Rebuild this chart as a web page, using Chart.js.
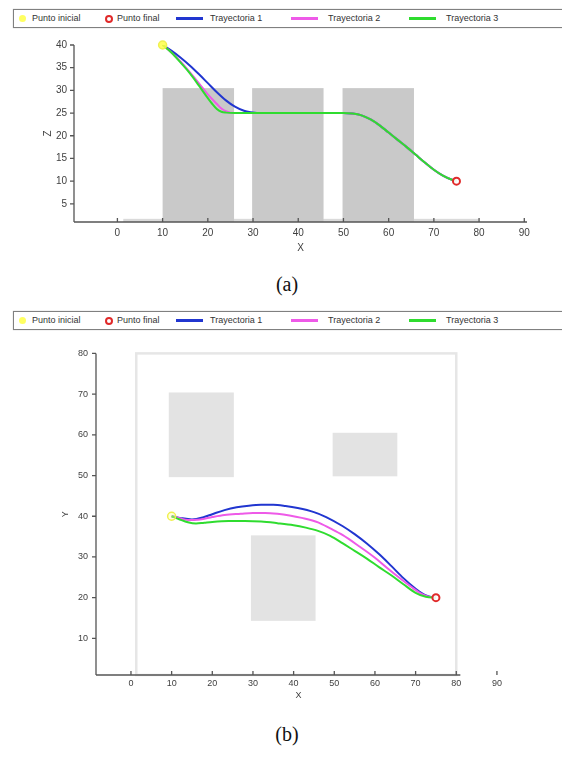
<!DOCTYPE html>
<html>
<head>
<meta charset="utf-8">
<script src="https://cdn.jsdelivr.net/npm/chart.js@4.4.1/dist/chart.umd.min.js"></script>
<style>
  body { margin: 0; width: 562px; height: 760px; background: #fff; overflow: hidden; position: relative; font-family: "Liberation Sans", Arial, sans-serif; }
  .legend { position: absolute; left: 13px; width: 560px; height: 19px; box-sizing: border-box; border: 1px solid #808080; box-shadow: 0 0 1px #b0b0b0; }
  .legend span { position: absolute; }
  .legend .txt { font-size: 9px; color: #333; top: 3px; white-space: nowrap; }
  .plot { position: absolute; left: 0; width: 562px; }
  .caption { position: absolute; width: 562px; text-align: center; font-family: "Liberation Serif", "DejaVu Serif", serif; font-size: 20px; color: #111; }
</style>
</head>
<body>
<div class="legend" id="legA" style="top:9px"></div>
<div class="plot" style="top:30px;height:230px"><canvas id="chartA"></canvas></div>
<div class="caption" style="top:273px;left:6px">(a)</div>

<div class="legend" id="legB" style="top:311px"></div>
<div class="plot" style="top:340px;height:370px"><canvas id="chartB"></canvas></div>
<div class="caption" style="top:723px;left:6px">(b)</div>

<script>
// labels
const seriesLabels = ['Punto inicial', 'Punto final', 'Trayectoria 1', 'Trayectoria 2', 'Trayectoria 3'];
const lineColors = ['#2136d0', '#ee5ae8', '#2fdc2f'];

// tick labels
const xTicksA = [0, 10, 20, 30, 40, 50, 60, 70, 80, 90];
const zTicksA = [5, 10, 15, 20, 25, 30, 35, 40];
const xTicksB = [0, 10, 20, 30, 40, 50, 60, 70, 80, 90];
const yTicksB = [10, 20, 30, 40, 50, 60, 70, 80];

// (a) X-Z view
const startA = { x: 10, y: 40 };
const endA = { x: 75, y: 10 };
const t1Xa = [10, 12, 14, 16, 18, 20, 22, 24, 26, 28, 29.5, 32, 40, 50, 52, 54, 56, 58, 60, 62, 64, 66, 68, 70, 72, 74, 75];
const t1Za = [40, 38.7, 37.2, 35.5, 33.6, 31.6, 29.6, 27.8, 26.4, 25.5, 25.2, 25, 25, 25, 24.9, 24.5, 23.6, 22.3, 20.7, 19.1, 17.5, 15.8, 14.1, 12.5, 11.2, 10.3, 10.1];
const t2Xa = [10, 12, 14, 16, 18, 20, 22, 23, 24, 25, 27, 30, 40, 50, 52, 54, 56, 58, 60, 62, 64, 66, 68, 70, 72, 74, 75];
const t2Za = [40, 38.3, 36.3, 34.0, 31.6, 29.1, 27.0, 26.0, 25.4, 25.1, 25, 25, 25, 25, 24.9, 24.5, 23.6, 22.3, 20.7, 19.1, 17.5, 15.8, 14.1, 12.5, 11.2, 10.3, 10.1];
const t3Xa = [10, 12, 14, 16, 18, 20, 21, 22, 23, 24, 26, 30, 40, 50, 52, 54, 56, 58, 60, 62, 64, 66, 68, 70, 72, 74, 75];
const t3Za = [40, 38.3, 36.1, 33.8, 31.1, 28.3, 27.0, 25.9, 25.3, 25.1, 25, 25, 25, 25, 24.9, 24.5, 23.6, 22.3, 20.7, 19.1, 17.5, 15.8, 14.1, 12.5, 11.2, 10.3, 10.1];
// obstacles [x0, x1, z0, z1]
const obstaclesA = [[10, 25.8, 1, 30.5], [29.8, 45.6, 1, 30.5], [49.8, 65.6, 1, 30.5]];
const groundA = [[1.3, 80, 1, 1.7]];

// (b) X-Y view
const startB = { x: 10, y: 40 };
const endB = { x: 75, y: 20 };
const t1Xb = [10, 12, 15, 18, 20, 23, 26, 29, 32, 35, 38, 41, 45, 48, 52, 55, 58, 61, 64, 67, 70, 72, 73.5, 75];
const t1Yb = [40, 39.6, 39.2, 39.8, 40.5, 41.5, 42.2, 42.6, 42.8, 42.8, 42.5, 42.0, 41.0, 39.8, 37.6, 35.6, 33.3, 30.7, 27.8, 24.8, 22.2, 20.8, 20.2, 20];
const t2Xb = [10, 12, 14, 17, 20, 23, 27, 30, 33, 36, 39, 42, 46, 49, 52, 56, 60, 63, 66, 69, 71, 73, 75];
const t2Yb = [40, 39.5, 39.1, 39.2, 39.8, 40.3, 40.6, 40.8, 40.8, 40.6, 40.2, 39.6, 38.5, 37.0, 35.4, 32.7, 29.8, 27.3, 24.9, 22.6, 21.2, 20.3, 20];
const t3Xb = [10, 12, 14, 16, 18, 20, 24, 28, 32, 36, 40, 43, 46, 49, 52, 55, 58, 61, 64, 67, 70, 72.5, 75];
const t3Yb = [40, 39.2, 38.5, 38.2, 38.4, 38.6, 38.8, 38.8, 38.7, 38.3, 37.8, 37.2, 36.4, 35.2, 33.4, 31.5, 29.6, 27.5, 25.5, 23.3, 21.2, 20.2, 20];
const obstaclesB = [[9.3, 25.3, 49.6, 70.4], [29.5, 45.4, 14.3, 35.3], [49.6, 65.5, 49.8, 60.5]];
const frameB = [1.3, 80, 1, 80];

Chart.defaults.font.family = '"Liberation Sans", Arial, sans-serif';
Chart.defaults.color = '#404040';

function zip(xs, ys) {
    return xs.map((x, i) => ({ x: x, y: ys[i] }));
}

// gray blocks, drawn under the paths
const shapesPlugin = {
    id: 'shapes',
    beforeDatasetsDraw(chart, args, opts) {
        const { ctx, scales: { x, y } } = chart;
        ctx.save();
        (opts.blocks || []).forEach(group => {
            ctx.fillStyle = group.color;
            group.rects.forEach(r => {
                const x0 = x.getPixelForValue(r[0]), x1 = x.getPixelForValue(r[1]);
                const y0 = y.getPixelForValue(r[2]), y1 = y.getPixelForValue(r[3]);
                ctx.fillRect(x0, y1, x1 - x0, y0 - y1);
            });
        });
        if (opts.frame) {
            const f = opts.frame;
            ctx.strokeStyle = '#e6e6e6';
            ctx.lineWidth = 2.5;
            const x0 = x.getPixelForValue(f[0]), x1 = x.getPixelForValue(f[1]);
            const y0 = y.getPixelForValue(f[2]), y1 = y.getPixelForValue(f[3]);
            ctx.strokeRect(x0, y1, x1 - x0, y0 - y1);
        }
        ctx.restore();
    }
};

// axis lines with short tick marks
const axesPlugin = {
    id: 'axesLines',
    afterDraw(chart, args, opts) {
        const { ctx, chartArea: a, scales: { x, y } } = chart;
        ctx.save();
        ctx.strokeStyle = '#555';
        ctx.lineWidth = 1.3;
        ctx.beginPath();
        ctx.moveTo(a.left, a.bottom);
        ctx.lineTo(x.getPixelForValue(opts.xEnd), a.bottom);
        ctx.moveTo(a.left, a.bottom);
        ctx.lineTo(a.left, a.top);
        x.ticks.forEach(t => {
            const px = x.getPixelForValue(t.value);
            ctx.moveTo(px, a.bottom);
            ctx.lineTo(px, a.bottom - 4);
        });
        y.ticks.forEach(t => {
            const py = y.getPixelForValue(t.value);
            ctx.moveTo(a.left, py);
            ctx.lineTo(a.left - 4, py);
        });
        ctx.stroke();
        ctx.restore();
    }
};

function makeDatasets(start, end, paths, startFill) {
    const ds = [
        { label: seriesLabels[0], data: [start], pointRadius: 4, pointBackgroundColor: startFill, pointBorderColor: '#f0f050', pointBorderWidth: 1.5, showLine: false, order: 0, clip: false },
        { label: seriesLabels[1], data: [end], pointRadius: 3.5, pointBackgroundColor: 'rgba(255,255,255,0.9)', pointBorderColor: '#e02a2a', pointBorderWidth: 2, showLine: false, order: 0, clip: false }
    ];
    paths.forEach((p, i) => {
        ds.push({
            label: seriesLabels[i + 2],
            data: p,
            showLine: true,
            borderColor: lineColors[i],
            borderWidth: 2,
            pointRadius: 0,
            cubicInterpolationMode: 'monotone',
            order: 3 - i
        });
    });
    return ds;
}

function makeChart(id, cfg) {
    return new Chart(document.getElementById(id), {
        type: 'scatter',
        data: { datasets: cfg.datasets },
        options: {
            responsive: true,
            maintainAspectRatio: false,
            animation: false,
            layout: { padding: cfg.padding },
            plugins: {
                legend: { display: false },
                tooltip: { enabled: false },
                shapes: cfg.shapes,
                axesLines: { xEnd: cfg.xEnd }
            },
            scales: {
                x: {
                    min: cfg.xMin, max: cfg.xMax,
                    grid: { display: false, drawTicks: false },
                    border: { display: false },
                    afterBuildTicks: s => { s.ticks = cfg.xTicks.map(v => ({ value: v })); },
                    afterFit: s => { s.height = cfg.xHeight; },
                    ticks: { font: { size: cfg.fontSize }, padding: cfg.xPad, maxRotation: 0 },
                    title: { display: true, text: 'X', font: { size: cfg.fontSize }, padding: { top: 0, bottom: cfg.xTitlePad } }
                },
                y: {
                    min: cfg.yMin, max: cfg.yMax,
                    grid: { display: false, drawTicks: false },
                    border: { display: false },
                    afterBuildTicks: s => { s.ticks = cfg.yTicks.map(v => ({ value: v })); },
                    afterFit: s => { s.width = cfg.yWidth; },
                    ticks: { font: { size: cfg.fontSize }, padding: cfg.yPad },
                    title: { display: true, text: cfg.yTitle, font: { size: cfg.fontSize }, padding: { top: cfg.yTitlePad, bottom: 0 } }
                }
            }
        },
        plugins: [shapesPlugin, axesPlugin]
    });
}

// legend markers (page x positions)
const legendMarkX = [22, 108, 176, 291, 409];
const legendTextX = [32, 117, 210, 328, 446];

function buildLegend(elId, chart) {
    const el = document.getElementById(elId);
    chart.data.datasets.forEach((ds, i) => {
        const m = document.createElement('span');
        const left = legendMarkX[i] - 14;
        if (i === 0) {
            m.style.cssText = `left:${left - 3}px;top:5px;width:7px;height:7px;border-radius:50%;background:rgba(255,255,80,0.9);`;
        } else if (i === 1) {
            m.style.cssText = `left:${left - 3}px;top:5px;width:4px;height:4px;border-radius:50%;border:2px solid ${ds.pointBorderColor};`;
        } else {
            m.style.cssText = `left:${left}px;top:7px;width:27px;height:3px;background:${ds.borderColor};`;
        }
        el.appendChild(m);
        const t = document.createElement('span');
        t.className = 'txt';
        t.style.left = (legendTextX[i] - 14) + 'px';
        t.textContent = ds.label;
        el.appendChild(t);
    });
}

const chartA = makeChart('chartA', {
    datasets: makeDatasets(startA, endA, [zip(t1Xa, t1Za), zip(t2Xa, t2Za), zip(t3Xa, t3Za)], 'rgba(255,255,70,0.85)'),
    padding: { top: 15, right: 35, left: 0, bottom: 0 },
    xMin: -9.6, xMax: 90.6, xEnd: 90.6,
    yMin: 1, yMax: 40,
    xTicks: xTicksA, yTicks: zTicksA,
    xHeight: 38, yWidth: 74,
    fontSize: 10, xPad: 5, yPad: 7,
    xTitlePad: 6, yTitlePad: 42, yTitle: 'Z',
    shapes: { blocks: [{ color: '#dadada', rects: groundA }, { color: '#c9c9c9', rects: obstaclesA }] }
});

const chartB = makeChart('chartB', {
    datasets: makeDatasets(startB, endB, [zip(t1Xb, t1Yb), zip(t2Xb, t2Yb), zip(t3Xb, t3Yb)], 'rgba(255,255,160,0.35)'),
    padding: { top: 13, right: 61, left: 0, bottom: 0 },
    xMin: -8.6, xMax: 91, xEnd: 81,
    yMin: 1, yMax: 80,
    xTicks: xTicksB, yTicks: yTicksB,
    xHeight: 35, yWidth: 96,
    fontSize: 9, xPad: 3, yPad: 8,
    xTitlePad: 9, yTitlePad: 60, yTitle: 'Y',
    shapes: { blocks: [{ color: '#e3e3e3', rects: obstaclesB }], frame: frameB }
});

buildLegend('legA', chartA);
buildLegend('legB', chartB);
</script>
</body>
</html>
